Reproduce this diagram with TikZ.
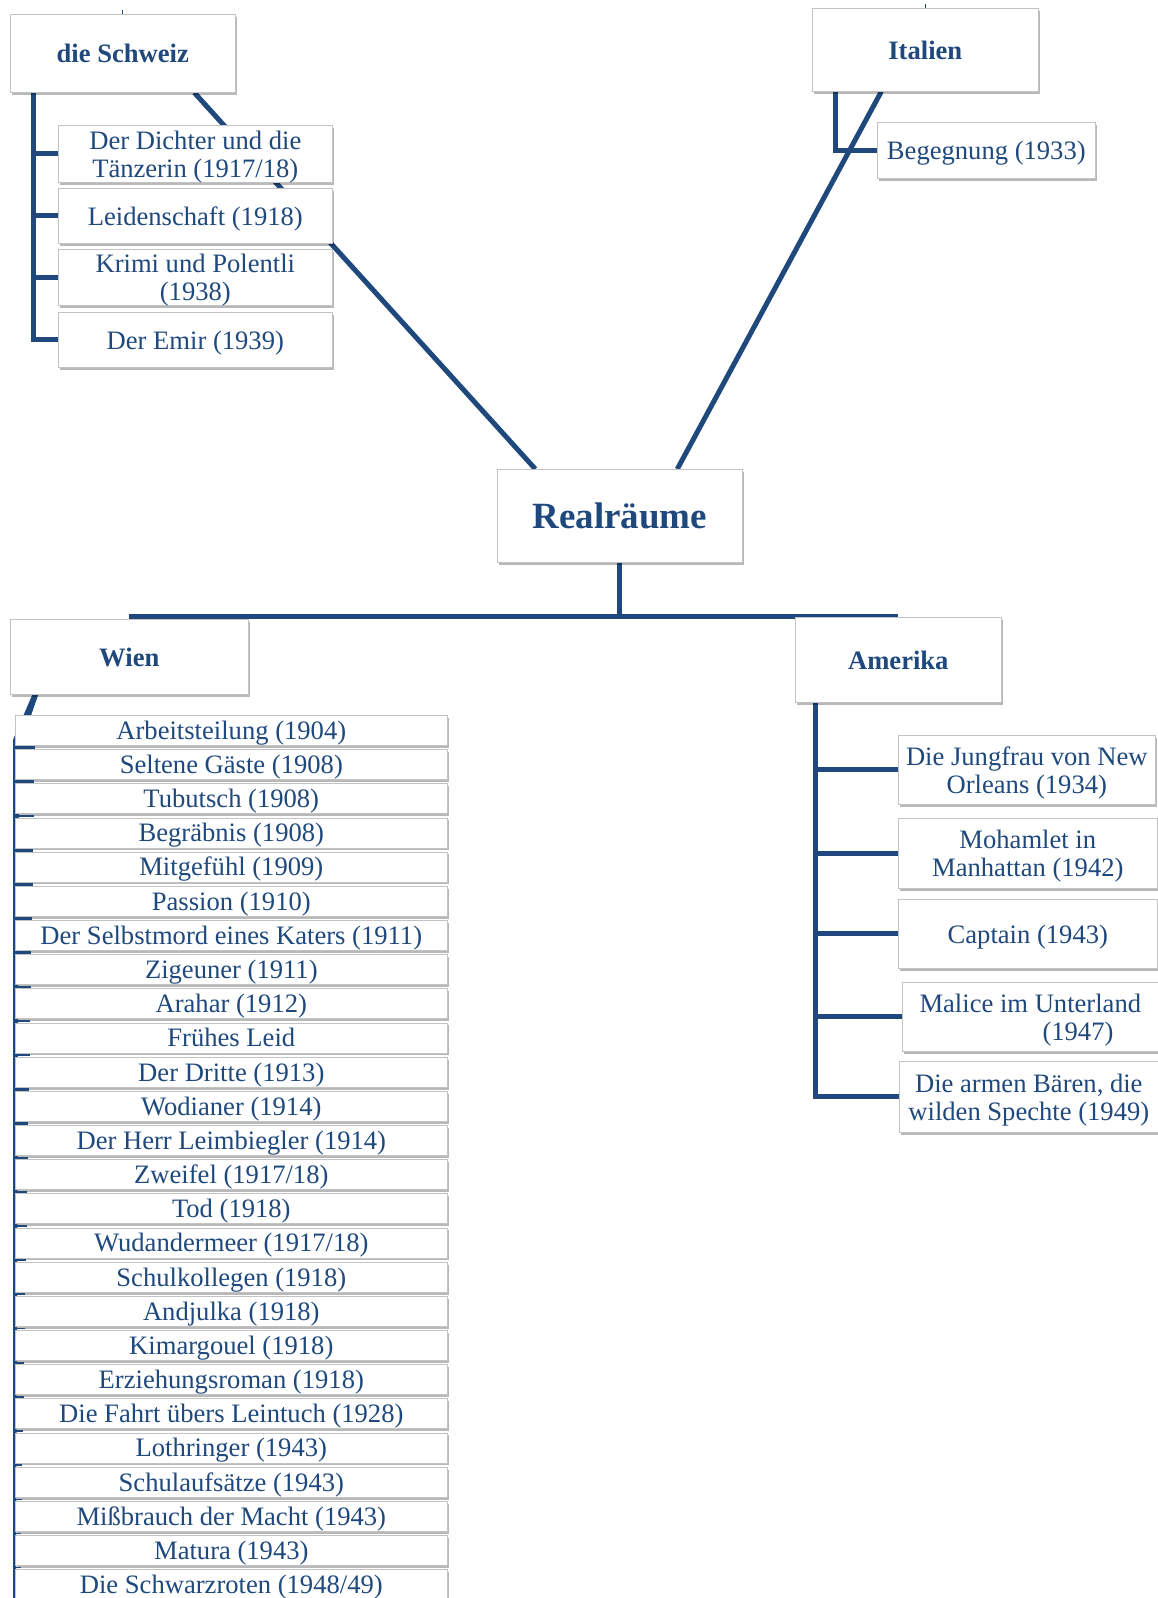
\documentclass[tikz,border=0pt]{standalone}
\usepackage{fontspec}
\setmainfont{Liberation Serif}
\usetikzlibrary{shadows,calc}
\definecolor{navy}{RGB}{31,73,125}
\definecolor{boxgray}{RGB}{195,195,195}
\pgfdeclarelayer{bg}
\pgfsetlayers{bg,main}
\begin{document}
\begin{tikzpicture}[x=1pt,y=-1pt,
  box/.style={draw=boxgray, line width=0.6pt, fill=white, inner sep=0pt, text=navy,
    align=center, font=\fontsize{26.6}{28}\selectfont, text depth=0pt,
    drop shadow={shadow xshift=1.5pt, shadow yshift=-2.5pt, opacity=0.28, fill=black}},
  head/.style={box, font=\fontsize{26.6}{28}\selectfont\bfseries},
  conn/.style={draw=navy, line width=5pt},
  nw/.style={anchor=north west}
]
\useasboundingbox (0,0) rectangle (1158,1598);

% headers
\node[head, nw, minimum width=225, minimum height=78] (schweiz) at (10,14) {die Schweiz};
\node[head, nw, minimum width=226, minimum height=83] (ital) at (812,8) {Italien};
\node[box, nw, font=\fontsize{37}{40}\selectfont\bfseries, minimum width=245, minimum height=93] (real) at (497,469) {Realräume};
\node[head, nw, minimum width=238, minimum height=75] (wien) at (10,619) {Wien};
\node[head, nw, minimum width=206, minimum height=85] (amer) at (795,617) {Amerika};

% Schweiz children
\node[box, nw, minimum width=274, minimum height=57] (d1) at (58,125) {Der Dichter und die\\Tänzerin (1917/18)};
\node[box, nw, minimum width=274, minimum height=55] (d2) at (58,188) {Leidenschaft (1918)};
\node[box, nw, minimum width=274, minimum height=56] (d3) at (58,249) {Krimi und Polentli\\(1938)};
\node[box, nw, minimum width=274, minimum height=55] (d4) at (58,312) {Der Emir (1939)};

% Italien child
\node[box, nw, minimum width=218, minimum height=56] (beg) at (877,122) {Begegnung (1933)};

% Amerika children
\node[box, nw, minimum width=257, minimum height=69] (a1) at (898,735) {Die Jungfrau von New\\Orleans (1934)};
\node[box, nw, minimum width=259, minimum height=70] (a2) at (898,818) {Mohamlet in\\Manhattan (1942)};
\node[box, nw, minimum width=259, minimum height=69] (a3) at (898,899) {Captain (1943)};
\node[box, nw, minimum width=256, minimum height=69, align=left] (a4) at (902,982) {Malice im Unterland\\\hspace*{123pt}(1947)};
\node[box, nw, minimum width=259, minimum height=71] (a5) at (899,1061) {Die armen Bären, die\\wilden Spechte (1949)};

% Wien list
\foreach \t [count=\n from 0] in {Arbeitsteilung (1904), Seltene Gäste (1908), Tubutsch (1908),
  Begräbnis (1908), Mitgefühl (1909), Passion (1910), Der Selbstmord eines Katers (1911),
  Zigeuner (1911), Arahar (1912), Frühes Leid, Der Dritte (1913), Wodianer (1914),
  Der Herr Leimbiegler (1914), Zweifel (1917/18), Tod (1918), Wudandermeer (1917/18),
  Schulkollegen (1918), Andjulka (1918), Kimargouel (1918), Erziehungsroman (1918),
  Die Fahrt übers Leintuch (1928), Lothringer (1943), Schulaufsätze (1943),
  Mißbrauch der Macht (1943), Matura (1943), Die Schwarzroten (1948/49)}
  \node[box, nw, minimum width=432, minimum height=30, text height=21pt, text depth=3pt]
    (w\n) at (15,{715+\n*34.17}) {\t};

% ticks of the Wien connector, visible in the gaps
\foreach \n in {0,...,25}
  \draw[navy, line width={(3-0.06*\n)*1pt}] ([xshift=-2pt,yshift=-2pt]w\n.south west) -- ++({22-0.6*\n},0);

\begin{pgfonlayer}{bg}
  \fill[white] (0,0) rectangle (1158,1598);
  % stubs above headers
  \draw[navy, line width=1pt] (schweiz.north) -- ++(0,-4);
  \draw[navy, line width=1pt] (ital.north) -- ++(0,-4);
  % diagonals to Realraeume
  \draw[conn] ([xshift=71.5pt]schweiz.south) -- ([xshift=-84.5pt]real.north);
  \draw[conn] ([xshift=-44pt]ital.south) -- ([xshift=57.5pt]real.north);
  % Schweiz spine
  \coordinate (sp) at ([xshift=-89.5pt]schweiz.south);
  \draw[conn] (sp) |- (d4.west);
  \foreach \d in {d1,d2,d3} \draw[conn] (sp |- \d.west) -- (\d.west);
  % Italien
  \draw[conn] ([xshift=-90pt]ital.south) |- (beg.west);
  % Realraeume down
  \coordinate (hy) at (0,616);
  \draw[conn] (real.south) -- (real.south |- hy);
  \draw[conn] (wien.north |- hy) -- (amer.north |- hy);
  % Amerika spine
  \coordinate (asp) at ([xshift=-83pt]amer.south);
  \draw[conn] (asp) |- (a5.west);
  \foreach \a in {a1,a2,a3,a4} \draw[conn] (asp |- \a.west) -- (\a.west);
  % Wien spine (tapered)
  \fill[navy] ([xshift=-97pt]wien.south) -- ([xshift=-91pt]wien.south) -- (19,750) -- (16,1598)
    -- (13,1598) -- (13,740) -- cycle;
\end{pgfonlayer}
\end{tikzpicture}
\end{document}
